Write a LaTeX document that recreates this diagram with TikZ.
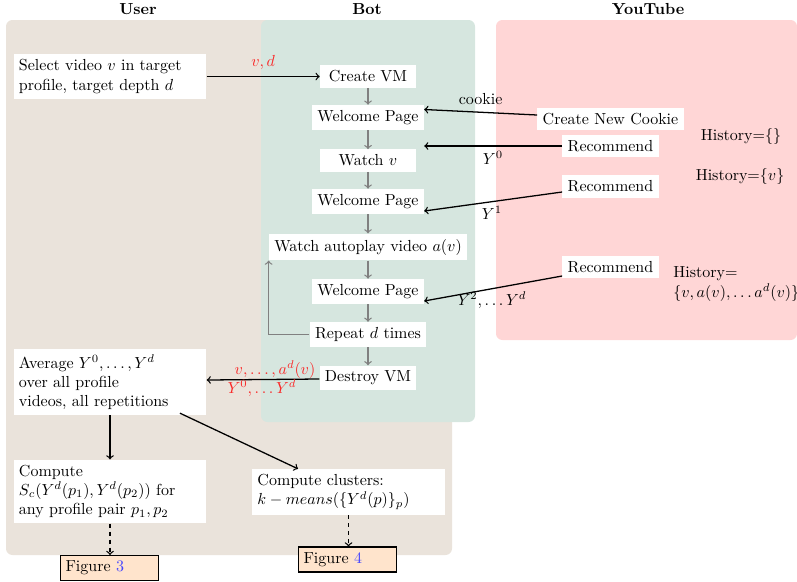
\documentclass[tikz,border=0pt]{standalone}
\usetikzlibrary{calc}
\definecolor{userbg}{RGB}{234,227,219}
\definecolor{botbg}{RGB}{214,230,223}
\definecolor{ytbg}{RGB}{255,214,214}
\definecolor{figbg}{RGB}{255,228,204}
\definecolor{linkblue}{RGB}{70,70,255}
\definecolor{lblred}{RGB}{250,40,40}
\definecolor{flowgray}{RGB}{128,128,128}
\begin{document}
\begin{tikzpicture}[x=0.625pt,y=-0.625pt,
  box/.style={fill=white, inner sep=3.33pt},
  botbox/.style={box, minimum width=60pt},
  widebox/.style={box, text width=4cm, align=left},
  figbox/.style={draw=black, thick, fill=figbg, inner sep=3.33pt, text width=55pt, align=left},
  flow/.style={->, flowgray, thick},
  msg/.style={->, black, thick},
  dashmsg/.style={->, black, thick, dash pattern=on 2.5pt off 2.5pt},
  header/.style={font=\bfseries},
  redlbl/.style={text=lblred, inner sep=1pt}
]
\useasboundingbox (0,0) rectangle (797,581);
% backgrounds
\fill[userbg, rounded corners=4pt] (6,20) rectangle (452,555);
\fill[botbg, rounded corners=4pt] (261,20) rectangle (475,422);
\fill[ytbg, rounded corners=4pt] (496,20) rectangle (797,340);
% headers
\node[header] (huser) at (138,9) {User};
\node[header] (hbot) at (367,9) {Bot};
\node[header] (hyt) at (648,9) {YouTube};
% user nodes
\node[widebox] (sel) at (110,76.5) {Select video $v$ in target\\ profile, target depth $d$};
\node[widebox] (avg) at (110,382) {Average $Y^0,\dots,Y^d$\\ over all profile\\ videos, all repetitions};
\node[widebox] (sc) at (110,491.5) {Compute\\ $S_c(Y^d(p_1),Y^d(p_2))$ for\\ any profile pair $p_1,p_2$};
\node[widebox] (cl) at (348.5,492) {Compute clusters:\\ $k-means(\{Y^d(p)\}_p)$};
\node[figbox] (fig3) at (109.5,568) {Figure \textcolor{linkblue}{3}};
\node[figbox] (fig4) at (347.5,559.5) {Figure \textcolor{linkblue}{4}};
% bot nodes
\node[botbox] (vm) at (368,76.5) {Create VM};
\node[botbox] (wp1) at (368,117.5) {Welcome Page};
\node[botbox] (wv) at (368,160.5) {Watch $v$};
\node[botbox] (wp2) at (368,201.5) {Welcome Page};
\node[botbox] (wa) at (368,247) {Watch autoplay video $a(v)$};
\node[botbox] (wp3) at (368,291.5) {Welcome Page};
\node[botbox] (rep) at (368,334.5) {Repeat $d$ times};
\node[botbox] (dvm) at (368,378) {Destroy VM};
% youtube nodes
\node[box] (cook) at (610.5,119) {Create New Cookie};
\node[box] (rec1) at (610.5,146) {Recommend};
\node[box] (rec2) at (610.5,186.5) {Recommend};
\node[box] (rec3) at (610.5,267) {Recommend};
\node (h0) at (741,136) {History=\{\}};
\node (h1) at (740,176) {History=\{$v$\}};
\node[align=left, anchor=west, inner sep=0pt] (h2) at (673,284) {History=\\ $\{v,a(v),\dots a^d(v)\}$};
% bot flow
\draw[flow] (vm) -- (wp1);
\draw[flow] (wp1) -- (wv);
\draw[flow] (wv) -- (wp2);
\draw[flow] (wp2) -- (wa);
\draw[flow] (wa) -- (wp3);
\draw[flow] (wp3) -- (rep);
\draw[flow] (rep) -- (dvm);
\draw[flow] (rep.west) -| (wa.south west);
% messages
\draw[msg] (sel.east |- vm.west) -- node[redlbl, above=3pt] (lvd) {$v,d$} (vm.west);
\draw[msg] ($(cook.west)+(0,-4)$) -- node[above=1pt, pos=0.5] (lcook) {cookie} ($(wp1.east)+(0,-8)$);
\draw[msg] (rec1.west) -- (rec1.west -| wp1.east);
\node (ly0) at (493,158) {$Y^0$};
\draw[msg] ($(rec2.west)+(0,5.5)$) -- ($(wp2.east)+(0,9.5)$);
\node (ly1) at (492,213) {$Y^1$};
\draw[msg] ($(rec3.west)+(0,9)$) -- ($(wp3.east)+(0,9.5)$);
\node (ly2) at (492,300) {$Y^2,\dots Y^d$};
\draw[msg] ($(dvm.west)+(0,1)$) -- ($(avg.east)+(0,-2)$);
\node[redlbl] (lva) at (275,369.5) {$v,\dots,a^d(v)$};
\node[redlbl] (lyy) at (262,388) {$Y^0,\dots Y^d$};
% user flow
\draw[msg] (avg) -- (sc);
\draw[msg] ($(avg.south)+(70,-2)$) -- ($(cl.north)+(-50.5,0)$);
\draw[dashmsg] (sc.south) -- (sc.south |- fig3.north);
\draw[dashmsg] (cl.south) -- (cl.south |- fig4.north);
\end{tikzpicture}
\end{document}
